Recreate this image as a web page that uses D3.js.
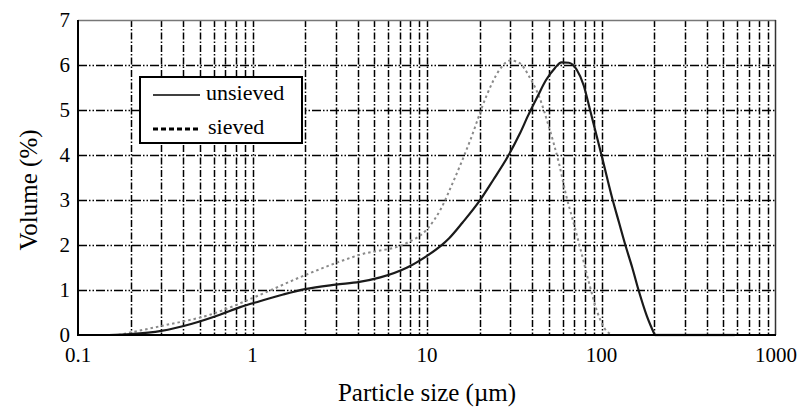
<!DOCTYPE html>
<html>
<head>
<meta charset="utf-8">
<title>Particle size distribution</title>
<script src="https://cdnjs.cloudflare.com/ajax/libs/d3/7.8.5/d3.min.js"></script>
<style>
  body { margin: 0; background: #fff; }
  text { font-family: "Liberation Serif", "DejaVu Serif", serif; fill: #000; }
</style>
</head>
<body>
<script>
// particle size (um) and volume (%)
var unsievedSize = [0.15, 0.2, 0.3, 0.45, 0.65, 0.85, 1.1, 1.5, 2, 3, 4.1, 5.4, 7.7, 10, 11.9, 13.4, 16, 20, 24, 29, 34, 38, 43, 48, 54, 59, 65, 72, 79, 86, 100, 115, 126, 137, 150, 163, 182, 202];
var unsievedVol  = [0, 0.02, 0.09, 0.25, 0.45, 0.62, 0.75, 0.9, 1.02, 1.12, 1.18, 1.28, 1.5, 1.76, 1.97, 2.15, 2.5, 2.98, 3.45, 3.96, 4.47, 4.88, 5.3, 5.66, 5.93, 6.06, 6.05, 5.9, 5.55, 5.0, 4.0, 3.05, 2.5, 2.0, 1.5, 1.0, 0.42, 0];
// flat zero run after the curve ends
var tailSize = [202, 580];
var tailVol = [0, 0];

var sievedSize = [0.17, 0.3, 0.57, 1.1, 2, 4.1, 7.7, 10, 12, 14, 17.7, 22, 26, 30, 34, 38.7, 44, 50, 57, 63, 68, 76, 86, 95, 104, 116];
var sievedVol  = [0, 0.2, 0.45, 0.89, 1.33, 1.78, 2.05, 2.35, 2.8, 3.37, 4.33, 5.33, 5.89, 6.1, 6.04, 5.73, 5.29, 4.62, 3.82, 3.07, 2.6, 1.89, 1.07, 0.49, 0.15, 0];

var xTicks = [0.1, 1, 10, 100, 1000];
var yTicks = [0, 1, 2, 3, 4, 5, 6, 7];
var legendNames = ["unsieved", "sieved"];

var W = 798, H = 407;
var pLeft = 78, pRight = 776, pTop = 20, pBottom = 335;

var svg = d3.select("body").append("svg")
    .attr("width", W)
    .attr("height", H);

var x = d3.scaleLog().domain([0.1, 1000]).range([pLeft, pRight]);
var y = d3.scaleLinear().domain([0, 7]).range([pBottom, pTop]);

// minor grid positions 0.2 .. 900
var vGrid = [];
[0.1, 1, 10, 100].forEach(function(dec) {
  for (var k = 2; k <= 10; k++) {
    if (dec * k < 1000) vGrid.push(dec * k);
  }
});

svg.append("g").selectAll("line")
    .data(vGrid)
    .enter().append("line")
    .attr("x1", function(d) { return Math.round(x(d)) + 0.5; })
    .attr("x2", function(d) { return Math.round(x(d)) + 0.5; })
    .attr("y1", pTop)
    .attr("y2", pBottom)
    .attr("stroke", "#000")
    .attr("stroke-width", 1.5)
    .attr("stroke-dasharray", "7,2,1.5,2");

svg.append("g").selectAll("line")
    .data(yTicks.slice(1, 7))
    .enter().append("line")
    .attr("x1", pLeft)
    .attr("x2", pRight)
    .attr("y1", function(d) { return Math.round(y(d)) + 0.5; })
    .attr("y2", function(d) { return Math.round(y(d)) + 0.5; })
    .attr("stroke", "#000")
    .attr("stroke-width", 1.5)
    .attr("stroke-dasharray", "9,2,1.5,2,1.5,2");

// frame
svg.append("line").attr("x1", pLeft).attr("x2", pRight).attr("y1", pTop + 0.5).attr("y2", pTop + 0.5)
    .attr("stroke", "#777").attr("stroke-width", 1.5);
svg.append("line").attr("x1", pRight - 0.5).attr("x2", pRight - 0.5).attr("y1", pTop).attr("y2", pBottom)
    .attr("stroke", "#333").attr("stroke-width", 1.5);

var line = d3.line()
    .x(function(d) { return x(d[0]); })
    .y(function(d) { return y(d[1]); })
    .curve(d3.curveMonotoneX);

var sieved = d3.zip(sievedSize, sievedVol);
var unsieved = d3.zip(unsievedSize, unsievedVol);
var tail = d3.zip(tailSize, tailVol);

svg.append("path")
    .datum(sieved)
    .attr("d", line)
    .attr("fill", "none")
    .attr("stroke", "#8a8a8a")
    .attr("stroke-width", 2)
    .attr("stroke-dasharray", "2.5,3");

svg.append("path")
    .datum(tail)
    .attr("d", line)
    .attr("fill", "none")
    .attr("stroke", "#888")
    .attr("stroke-width", 2.5);

svg.append("path")
    .datum(unsieved)
    .attr("d", line)
    .attr("fill", "none")
    .attr("stroke", "#1a1a1a")
    .attr("stroke-width", 2.2);

// left and bottom axis lines
svg.append("line").attr("x1", pLeft).attr("x2", pLeft).attr("y1", pTop).attr("y2", pBottom + 1)
    .attr("stroke", "#000").attr("stroke-width", 2);
svg.append("line").attr("x1", pLeft - 1).attr("x2", pRight).attr("y1", pBottom).attr("y2", pBottom)
    .attr("stroke", "#000").attr("stroke-width", 2);

// tick labels
svg.append("g").selectAll("text")
    .data(yTicks)
    .enter().append("text")
    .attr("x", pLeft - 8)
    .attr("y", function(d) { return y(d) + 7; })
    .attr("text-anchor", "end")
    .attr("font-size", 21)
    .text(function(d) { return d; });

svg.append("g").selectAll("text")
    .data(xTicks)
    .enter().append("text")
    .attr("x", function(d) { return x(d); })
    .attr("y", 362)
    .attr("text-anchor", "middle")
    .attr("font-size", 21)
    .text(function(d) { return d; });

// axis titles
svg.append("text")
    .attr("x", 427)
    .attr("y", 401)
    .attr("text-anchor", "middle")
    .attr("font-size", 25)
    .text("Particle size (\u00b5m)");

svg.append("text")
    .attr("transform", "translate(37,190) rotate(-90)")
    .attr("text-anchor", "middle")
    .attr("font-size", 25)
    .text("Volume (%)");

// legend
var lg = svg.append("g");
lg.append("rect")
    .attr("x", 140).attr("y", 77)
    .attr("width", 162).attr("height", 66)
    .attr("fill", "#fff")
    .attr("stroke", "#000")
    .attr("stroke-width", 2);

lg.append("line")
    .attr("x1", 153).attr("x2", 200).attr("y1", 95).attr("y2", 95)
    .attr("stroke", "#000").attr("stroke-width", 1.5);
lg.append("line")
    .attr("x1", 153).attr("x2", 200).attr("y1", 129).attr("y2", 129)
    .attr("stroke", "#000").attr("stroke-width", 3)
    .attr("stroke-dasharray", "5,3");

lg.selectAll("text.leg")
    .data(legendNames)
    .enter().append("text")
    .attr("class", "leg")
    .attr("x", function(d, i) { return i == 0 ? 206 : 208; })
    .attr("y", function(d, i) { return i == 0 ? 100 : 134; })
    .attr("font-size", 22)
    .text(function(d) { return d; });
</script>
</body>
</html>
